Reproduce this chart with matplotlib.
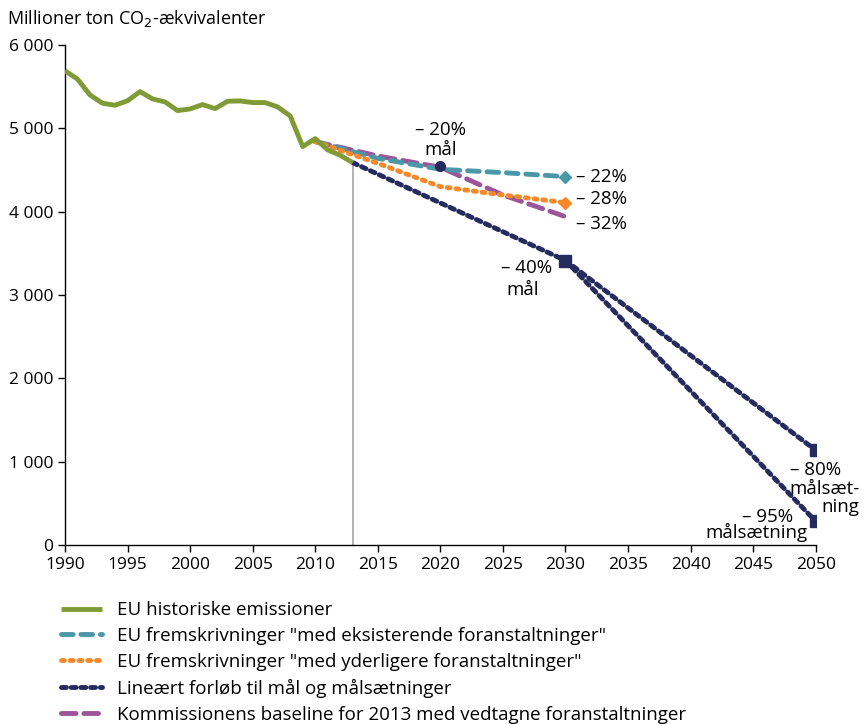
import matplotlib
matplotlib.use("Agg")
import matplotlib.pyplot as plt
from matplotlib.ticker import FuncFormatter

plt.rcParams['font.family'] = ['Open Sans', 'DejaVu Sans']
plt.rcParams['font.size'] = 13

# historiske emissioner (mio. ton CO2-aekv.)
hist_years = list(range(1990, 2014))
hist_vals = [5690, 5590, 5400, 5300, 5276, 5330, 5440, 5352, 5316, 5212,
             5232, 5284, 5236, 5324, 5328, 5308, 5308, 5256, 5148, 4780,
             4876, 4740, 4676, 4588]

proj_years = [2010, 2015, 2020, 2025, 2030]
wem_vals = [4840, 4640, 4508, 4468, 4420]      # eksisterende foranstaltninger
wam_vals = [4840, 4580, 4300, 4200, 4108]      # yderligere foranstaltninger
base_vals = [4840, 4668, 4532, 4200, 3940]     # kommissionens baseline

lin_years = [2013, 2030]
lin_vals = [4588, 3414]
lin80_years = [2030, 2050]
lin80_vals = [3414, 1138]
lin95_years = [2030, 2050]
lin95_vals = [3414, 285]
goal2020 = (2020, 4552)

c_green = '#809b36'
c_teal = '#4a97a8'
c_orange = '#f7892a'
c_navy = '#252b5e'
c_purple = '#9b5598'

fig = plt.figure(figsize=(8.66, 7.24), dpi=100)
ax = fig.add_axes([0.075, 0.247, 0.867, 0.691])

ax.plot([2013, 2013], [0, hist_vals[-1]], color='#a6a6a6', lw=1.2, zorder=1)

ax.plot(proj_years, base_vals, color=c_purple, lw=3.5, dashes=(3, 1.6),
        dash_capstyle='round', zorder=3,
        label='Kommissionens baseline for 2013 med vedtagne foranstaltninger')
ax.plot(proj_years, wem_vals, color=c_teal, lw=3.5, dashes=(2.4, 1.6),
        dash_capstyle='round', marker='D', markevery=[4], ms=6, zorder=4,
        label='EU fremskrivninger "med eksisterende foranstaltninger"')
ax.plot(proj_years, wam_vals, color=c_orange, lw=3.5, dashes=(0.6, 1.2),
        dash_capstyle='round', marker='D', markevery=[4], ms=6, zorder=4,
        label='EU fremskrivninger "med yderligere foranstaltninger"')

lin_kw = dict(color=c_navy, lw=3.5, dashes=(1.0, 1.0), dash_capstyle='round', zorder=5)
ax.plot(lin_years, lin_vals, label='Lineært forløb til mål og målsætninger', **lin_kw)
ax.plot(lin80_years, lin80_vals, **lin_kw)
ax.plot(lin95_years, lin95_vals, **lin_kw)
ax.plot([2030, 2050, 2050], [lin_vals[-1], lin80_vals[-1], lin95_vals[-1]],
        ls='none', marker='s', ms=8, color=c_navy, zorder=6)
ax.plot([goal2020[0]], [goal2020[1]], ls='none', marker='o', ms=7, color=c_navy, zorder=6)

ax.plot(hist_years, hist_vals, color=c_green, lw=3.5, zorder=7,
        solid_capstyle='butt', label='EU historiske emissioner')

# annoteringer
fs = 13.5
ax.text(2020.0, 4980, '– 20%', ha='center', va='center', fontsize=fs)
ax.text(2020.0, 4740, 'mål', ha='center', va='center', fontsize=fs)
ax.text(2030.8, wem_vals[-1], '– 22%', ha='left', va='center', fontsize=fs)
ax.text(2030.8, 4150, '– 28%', ha='left', va='center', fontsize=fs)
ax.text(2030.8, 3850, '– 32%', ha='left', va='center', fontsize=fs)
ax.text(2026.9, 3324, '– 40%', ha='center', va='center', fontsize=fs)
ax.text(2026.6, 3060, 'mål', ha='center', va='center', fontsize=fs)
ax.text(2052.0, 900, '– 80%', ha='right', va='center', fontsize=fs)
ax.text(2053.5, 672, 'målsæt-', ha='right', va='center', fontsize=fs)
ax.text(2053.5, 456, 'ning', ha='right', va='center', fontsize=fs)
ax.text(2048.2, 340, '– 95%', ha='right', va='center', fontsize=fs)
ax.text(2049.3, 150, 'målsætning', ha='right', va='center', fontsize=fs)

ax.set_xlim(1990, 2050)
ax.set_ylim(0, 6000)
ax.set_xticks(range(1990, 2051, 5))
ax.set_yticks(range(0, 6001, 1000))
ax.yaxis.set_major_formatter(FuncFormatter(lambda v, p: f'{int(v):,}'.replace(',', ' ')))
for s in ['top', 'right']:
    ax.spines[s].set_visible(False)
for s in ['left', 'bottom']:
    ax.spines[s].set_linewidth(1.0)
ax.tick_params(direction='out', length=5, width=1, labelsize=12.5)

fig.text(0.008, 0.975, 'Millioner ton CO$_2$-ækvivalenter', fontsize=13, va='center')

handles, labels = ax.get_legend_handles_labels()
order = ['EU historiske emissioner',
         'EU fremskrivninger "med eksisterende foranstaltninger"',
         'EU fremskrivninger "med yderligere foranstaltninger"',
         'Lineært forløb til mål og målsætninger',
         'Kommissionens baseline for 2013 med vedtagne foranstaltninger']
hmap = dict(zip(labels, handles))
leg = fig.legend([hmap[l] for l in order], order, loc='upper left',
                 bbox_to_anchor=(0.062, 0.18), frameon=False, fontsize=13.5,
                 handlelength=2.2, handletextpad=0.75, labelspacing=0.42,
                 borderaxespad=0)
for h in leg.legend_handles:
    h.set_marker('')

fig.savefig('out.png', dpi=100)
